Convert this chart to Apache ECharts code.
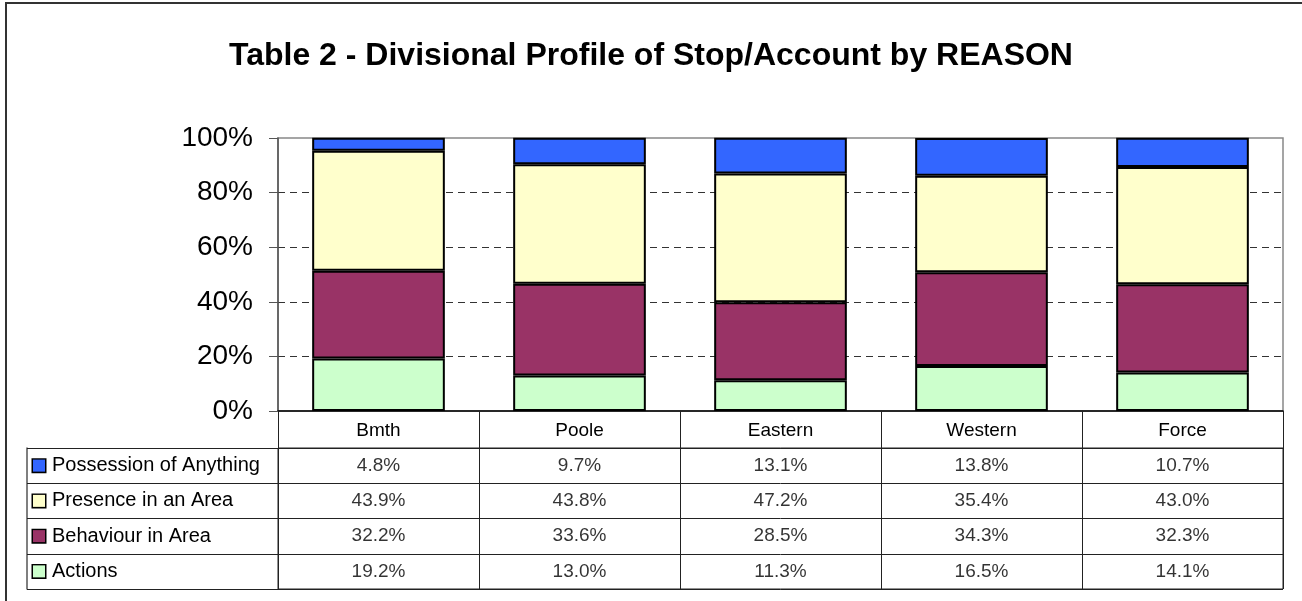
<!DOCTYPE html>
<html><head><meta charset="utf-8">
<script src="https://cdn.jsdelivr.net/npm/echarts@6/dist/echarts.min.js"></script>
<style>html,body{margin:0;padding:0;background:#fff}#c{width:1302px;height:601px}</style>
</head><body><div id="c"></div>
<script>
const categories = ['Bmth', 'Poole', 'Eastern', 'Western', 'Force'];
const seriesNames = ['Possession of Anything', 'Presence in an Area', 'Behaviour in Area', 'Actions'];
const possession = [4.8, 9.7, 13.1, 13.8, 10.7];
const presence = [43.9, 43.8, 47.2, 35.4, 43.0];
const behaviour = [32.2, 33.6, 28.5, 34.3, 32.3];
const actions = [19.2, 13.0, 11.3, 16.5, 14.1];
const yTicks = [0, 20, 40, 60, 80, 100];

const colors = {
  'Possession of Anything': '#3366FF',
  'Presence in an Area': '#FFFFCC',
  'Behaviour in Area': '#993366',
  'Actions': '#CCFFCC'
};
const valuesByName = {
  'Possession of Anything': possession,
  'Presence in an Area': presence,
  'Behaviour in Area': behaviour,
  'Actions': actions
};
const FONT = 'Liberation Sans, Arial, sans-serif';

const chart = echarts.init(document.getElementById('c'));

const barOrder = ['Actions', 'Behaviour in Area', 'Presence in an Area', 'Possession of Anything'];
const barSeries = barOrder.map(n => ({
  name: n, type: 'bar', stack: 'total', xAxisIndex: 0, yAxisIndex: 0,
  data: valuesByName[n], barCategoryGap: '34%',
  itemStyle: { color: colors[n], borderColor: '#000', borderWidth: 2 },
  emphasis: { disabled: true }
}));

const tableData = [];
seriesNames.forEach((n, r) => {
  valuesByName[n].forEach((v, i) => tableData.push([i, r, v]));
});

const richLegend = {};
seriesNames.forEach((n, r) => {
  richLegend['m' + r] = { width: 12, height: 12, backgroundColor: colors[n], borderColor: '#000', borderWidth: 1.5 };
});
richLegend.t = { fontSize: 20, fontFamily: FONT, color: '#000', padding: [0, 0, 0, 7] };

chart.setOption({
  animation: false,
  title: {
    text: 'Table 2 - Divisional Profile of Stop/Account by REASON',
    left: 'center', top: 35,
    textStyle: { fontSize: 32, fontWeight: 'bold', fontFamily: FONT, color: '#000' }
  },
  graphic: [{
    type: 'rect', shape: { x: 6, y: 3, width: 1400, height: 700 },
    style: { fill: 'none', stroke: '#333', lineWidth: 2 }, silent: true
  }],
  grid: [
    { left: 278, right: 19, top: 138, height: 273, show: true, borderColor: '#888', borderWidth: 1.5, containLabel: false },
    { left: 278, right: 19, top: 448, height: 141, show: true, borderColor: '#222', borderWidth: 1, containLabel: false }
  ],
  xAxis: [
    {
      type: 'category', gridIndex: 0, data: categories,
      axisLine: { lineStyle: { color: '#000', width: 1.5 } },
      axisTick: { show: true, length: 37, alignWithLabel: false, lineStyle: { color: '#222' } },
      axisLabel: { fontSize: 19, fontFamily: FONT, color: '#000', margin: 10 },
      splitLine: { show: false }
    },
    {
      type: 'category', gridIndex: 1, data: categories, position: 'top',
      axisLine: { show: true, lineStyle: { color: '#222', width: 1 } },
      axisTick: { show: false }, axisLabel: { show: false },
      splitLine: { show: true, lineStyle: { color: '#222', width: 1 } }
    }
  ],
  yAxis: [
    {
      type: 'value', gridIndex: 0, min: yTicks[0], max: yTicks[yTicks.length - 1], interval: 20,
      axisLine: { show: true, lineStyle: { color: '#555', width: 1.5 } },
      axisTick: { show: true, length: 9, lineStyle: { color: '#555' } },
      axisLabel: { fontSize: 28, fontFamily: FONT, color: '#000', formatter: '{value}%', margin: 25 },
      splitLine: { show: true, showMinLine: false, showMaxLine: false, lineStyle: { color: '#333', type: [7, 5], width: 1 } }
    },
    {
      type: 'category', gridIndex: 1, data: seriesNames, inverse: true,
      axisLine: { show: true, lineStyle: { color: '#222', width: 1 } },
      axisTick: { show: true, length: 251, alignWithLabel: false, lineStyle: { color: '#222', width: 1 } },
      axisLabel: {
        align: 'left', margin: 245,
        formatter: (v, idx) => '{m' + idx + '|}{t|' + v + '}',
        rich: richLegend
      },
      splitLine: { show: true, lineStyle: { color: '#222', width: 1 } }
    },
    {
      type: 'category', gridIndex: 1, data: seriesNames, inverse: true, position: 'left', offset: 251,
      axisLine: { show: true, lineStyle: { color: '#555', width: 1.5 } },
      axisTick: { show: false }, axisLabel: { show: false }, splitLine: { show: false }
    }
  ],
  series: barSeries.concat([{
    type: 'scatter', xAxisIndex: 1, yAxisIndex: 1, data: tableData,
    symbolSize: 1, itemStyle: { color: 'rgba(0,0,0,0)' },
    label: {
      show: true, position: 'inside', fontSize: 19, fontFamily: FONT, color: '#000',
      formatter: p => p.value[2].toFixed(1) + '%'
    },
    emphasis: { disabled: true }, silent: true
  }])
});
</script>
</body></html>
